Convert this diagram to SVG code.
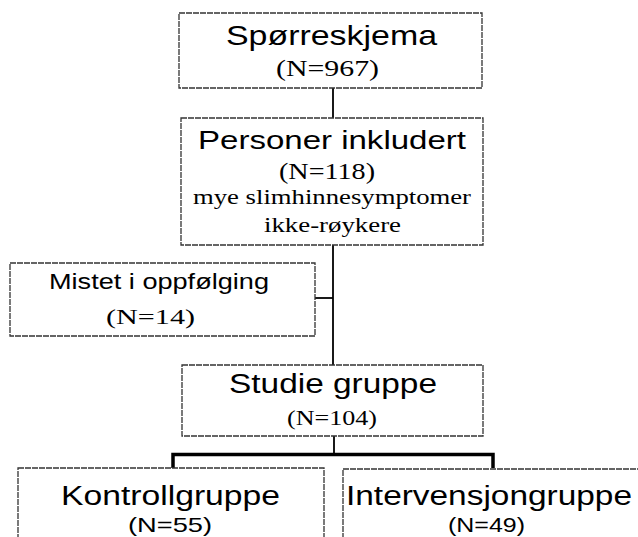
<svg xmlns="http://www.w3.org/2000/svg" width="638" height="537" viewBox="0 0 638 537">
<style>
.box{fill:#fff;stroke:#333;stroke-width:1.3;stroke-dasharray:6 1}
.sans{font-family:"Liberation Sans",Arial,sans-serif;fill:#000}
.serif{font-family:"Liberation Serif","Times New Roman",serif;fill:#000}
.ln{stroke:#000;stroke-width:1.8;fill:none}
.thick{stroke:#000;stroke-width:3.5;fill:none}
</style>
<rect width="638" height="537" fill="#fff"/>
<g id="connectors">
<line class="ln" x1="333" y1="88" x2="333" y2="118"/>
<line class="ln" x1="333" y1="245" x2="333" y2="365"/>
<line class="ln" x1="315" y1="298" x2="333" y2="298"/>
<line class="ln" x1="334" y1="436" x2="334" y2="454"/>
<polyline class="thick" points="173,468 173,454.5 493,454.5 493,468"/>
</g>
<g id="sporreskjema">
<rect class="box" x="179" y="13" width="303" height="75"/>
<text class="sans" x="226" y="45" font-size="28" textLength="211" lengthAdjust="spacingAndGlyphs">Spørreskjema</text>
<text class="serif" x="276" y="76" font-size="23" textLength="103" lengthAdjust="spacingAndGlyphs">(N=967)</text>
</g>
<g id="personer">
<rect class="box" x="181" y="118" width="302" height="127"/>
<text class="sans" x="198" y="149" font-size="25" textLength="268" lengthAdjust="spacingAndGlyphs">Personer inkludert</text>
<text class="serif" x="279" y="179" font-size="23" textLength="96" lengthAdjust="spacingAndGlyphs">(N=118)</text>
<text class="serif" x="193" y="204" font-size="21" textLength="278" lengthAdjust="spacingAndGlyphs">mye slimhinnesymptomer</text>
<text class="serif" x="264" y="232" font-size="21" textLength="137" lengthAdjust="spacingAndGlyphs">ikke-røykere</text>
</g>
<g id="mistet">
<rect class="box" x="10" y="263" width="305" height="73"/>
<text class="sans" x="49" y="289" font-size="22" textLength="220" lengthAdjust="spacingAndGlyphs">Mistet i oppfølging</text>
<text class="serif" x="106" y="324" font-size="22" textLength="89" lengthAdjust="spacingAndGlyphs">(N=14)</text>
</g>
<g id="studie">
<rect class="box" x="182" y="365" width="301" height="71"/>
<text class="sans" x="229" y="393" font-size="27" textLength="208" lengthAdjust="spacingAndGlyphs">Studie gruppe</text>
<text class="serif" x="287" y="425" font-size="22" textLength="90" lengthAdjust="spacingAndGlyphs">(N=104)</text>
</g>
<g id="kontroll">
<rect class="box" x="18" y="468" width="306" height="80"/>
<text class="sans" x="61" y="505" font-size="27" textLength="219" lengthAdjust="spacingAndGlyphs">Kontrollgruppe</text>
<text class="sans" x="128" y="532" font-size="21" textLength="84" lengthAdjust="spacingAndGlyphs">(N=55)</text>
</g>
<g id="intervensjon">
<rect class="box" x="343" y="469" width="305" height="80"/>
<text class="sans" x="346" y="505" font-size="27" textLength="286" lengthAdjust="spacingAndGlyphs">Intervensjongruppe</text>
<text class="sans" x="448" y="532" font-size="21" textLength="77" lengthAdjust="spacingAndGlyphs">(N=49)</text>
</g>
</svg>
